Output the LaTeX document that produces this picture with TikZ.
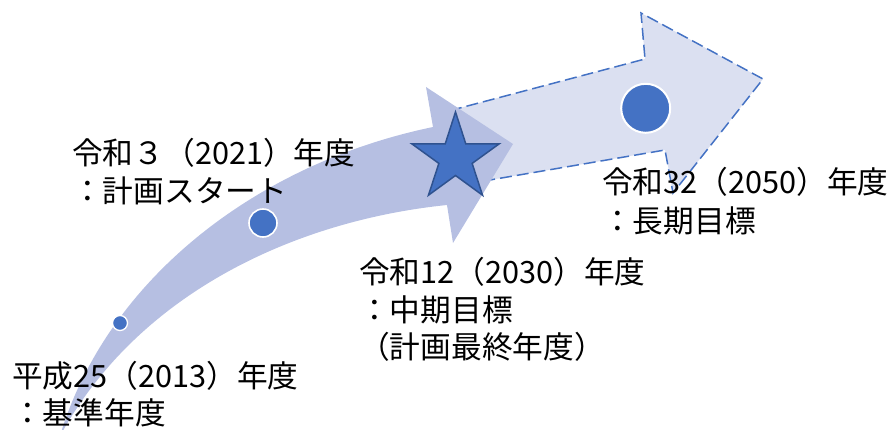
\documentclass[tikz,border=0pt]{standalone}
\usepackage{fontspec}
\newfontfamily\jpfont{Noto Sans CJK JP}
\usetikzlibrary{shapes.geometric}
\definecolor{bandfill}{RGB}{182,191,226}
\definecolor{futurefill}{RGB}{219,224,241}
\definecolor{accent}{RGB}{68,114,196}
\definecolor{accentdark}{RGB}{47,82,143}
\tikzset{
  lbl/.style={inner sep=0pt, anchor=base west, text=black, font=\jpfont\fontsize{30.7}{36}\selectfont},
  dot/.style={circle, fill=accent, draw=white, inner sep=0pt},
  futurearrow/.style={fill=futurefill, draw=accent, line width=1.5pt, dash pattern=on 12pt off 5pt, line join=miter},
  bandarrow/.style={fill=bandfill, draw=none},
  goalstar/.style={star, star points=5, star point ratio=2.63, minimum size=92pt, inner sep=0pt, fill=accent, draw=accentdark, line width=1.5pt}
}
\begin{document}
\begin{tikzpicture}[x=1pt, y=1pt]
\useasboundingbox (0,0) rectangle (891,429);
% future (dashed) arrow
\coordinate (fa1) at (450,318.4);
\coordinate (fa2) at (645,370);
\coordinate (fa3) at (641,416);
\coordinate (fa4) at (763,350);
\coordinate (fa5) at (673,236);
\coordinate (fa6) at (665,279);
\coordinate (fa7) at (470,245.6);
\draw[futurearrow] (fa1) -- (fa2) -- (fa3) -- (fa4) -- (fa5) -- (fa6) -- (fa7) -- cycle;
% curved solid arrow
\coordinate (tail) at (60,-7);
\coordinate (upshaft) at (433,302);
\coordinate (upbarb) at (426,342);
\coordinate (tip) at (513,285);
\coordinate (lobarb) at (453,186);
\coordinate (loshaft) at (447,224);
\fill[bandarrow] (tail) .. controls (105,144) and (250,264) .. (upshaft)
  -- (upbarb) -- (tip) -- (lobarb) -- (loshaft)
  .. controls (300,209) and (140,139) .. (tail) -- cycle;
% star
\node[goalstar] (star) at (455.5,271) {};
% dots
\node[dot, minimum size=15pt, line width=1.3pt] (d2013) at (120,106) {};
\node[dot, minimum size=28pt, line width=1.6pt] (d2021) at (263,206) {};
\node[dot, minimum size=49pt, line width=2pt] (d2050) at (645.7,320.7) {};
% labels
\node[lbl] (t1a) at (72,264) {令和３（2021）年度};
\node[lbl] (t1b) at (72,226) {：計画スタート};
\node[lbl] (t2a) at (359,146) {令和12（2030）年度};
\node[lbl] (t2b) at (359,108) {：中期目標};
\node[lbl] (t2c) at (359,71) {（計画最終年度）};
\node[lbl] (t3a) at (12,42) {平成25（2013）年度};
\node[lbl] (t3b) at (12,5) {：基準年度};
\node[lbl] (t4a) at (602,236) {令和32（2050）年度};
\node[lbl] (t4b) at (602,197) {：長期目標};
\end{tikzpicture}
\end{document}
